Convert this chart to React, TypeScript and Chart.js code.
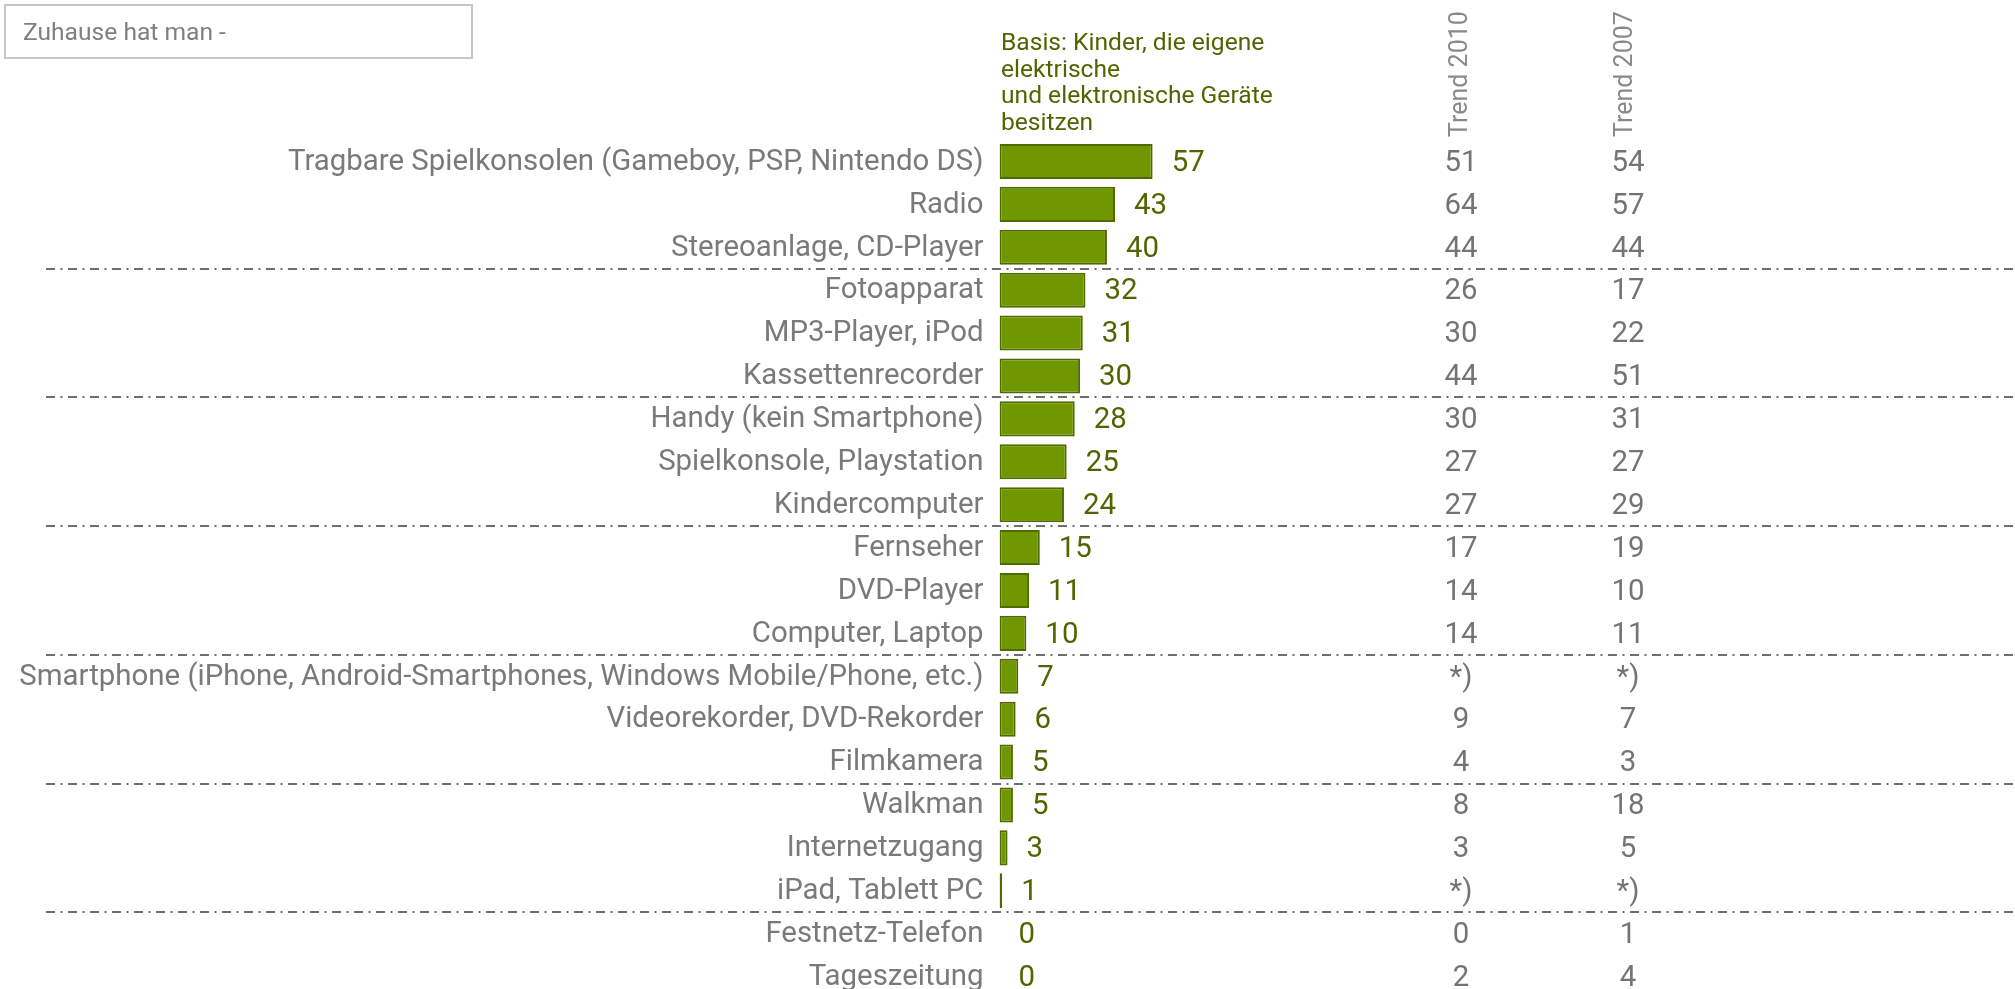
import React, { useEffect, useRef } from 'react';
import { Chart, registerables } from 'chart.js';

Chart.register(...registerables);

// ---------- data ----------
const categories: string[] = [
  'Tragbare Spielkonsolen (Gameboy, PSP, Nintendo DS)',
  'Radio',
  'Stereoanlage, CD-Player',
  'Fotoapparat',
  'MP3-Player, iPod',
  'Kassettenrecorder',
  'Handy (kein Smartphone)',
  'Spielkonsole, Playstation',
  'Kindercomputer',
  'Fernseher',
  'DVD-Player',
  'Computer, Laptop',
  'Smartphone (iPhone, Android-Smartphones, Windows Mobile/Phone, etc.)',
  'Videorekorder, DVD-Rekorder',
  'Filmkamera',
  'Walkman',
  'Internetzugang',
  'iPad, Tablett PC',
  'Festnetz-Telefon',
  'Tageszeitung',
];

const shares: number[] = [57, 43, 40, 32, 31, 30, 28, 25, 24, 15, 11, 10, 7, 6, 5, 5, 3, 1, 0, 0];

// null = not asked that year, shown as "*)"
const trend2010: (number | null)[] = [51, 64, 44, 26, 30, 44, 30, 27, 27, 17, 14, 14, null, 9, 4, 8, 3, null, 0, 2];
const trend2007: (number | null)[] = [54, 57, 44, 17, 22, 51, 31, 27, 29, 19, 10, 11, null, 7, 3, 18, 5, null, 1, 4];

const trendHeaders: string[] = ['Trend 2010', 'Trend 2007'];
const basisLines: string[] = [
  'Basis: Kinder, die eigene',
  'elektrische',
  'und elektronische Geräte',
  'besitzen',
];
const titleText = 'Zuhause hat man -';
const groupEnds: number[] = [2, 5, 8, 11, 14, 17];
const missingMark = '*)';

// ---------- styling / layout ----------
const FONT = 'Roboto';
const LABEL_PX = 29.4;
const SMALL_PX = 25;
const OLIVE = '#4f6600';
const BAR_FILL = '#709600';
const BAR_BORDER = '#4f6b00';
const GRAY = '#7a7a7a';
const NUM_GRAY = '#747474';
const LIGHT_GRAY = '#8a8a8a';
const W = 2015;
const H = 989;
const PLOT_LEFT = 999.5;
const PLOT_TOP = 140;
const X_MAX = 378;
const Y_MIN = -0.5;
const Y_MAX = 19.29;
const TREND_X = [1461, 1628];
const TREND_HEADER_X = [1461, 1626];

const overlay = {
  id: 'overlay',
  afterDatasetsDraw(chart: any) {
    const ctx: CanvasRenderingContext2D = chart.ctx;
    const yScale = chart.scales.y;
    const meta = chart.getDatasetMeta(0);
    ctx.save();

    // group separators
    ctx.strokeStyle = '#6e6e6e';
    ctx.lineWidth = 2;
    ctx.setLineDash([9, 5.5, 2, 5.5]);
    groupEnds.forEach((i) => {
      const py = Math.round(yScale.getPixelForValue(i + 0.5));
      ctx.beginPath();
      ctx.moveTo(46, py);
      ctx.lineTo(chart.width, py);
      ctx.stroke();
    });
    ctx.setLineDash([]);

    // value labels
    ctx.font = `${LABEL_PX}px ${FONT}`;
    ctx.fillStyle = OLIVE;
    ctx.textAlign = 'left';
    ctx.textBaseline = 'middle';
    meta.data.forEach((bar: any, i: number) => {
      ctx.fillText(String(shares[i]), bar.x + 19, bar.y + 2);
    });

    // trend columns
    ctx.fillStyle = NUM_GRAY;
    ctx.textAlign = 'center';
    [trend2010, trend2007].forEach((arr, c) => {
      arr.forEach((v, i) => {
        ctx.fillText(v == null ? missingMark : String(v), TREND_X[c], yScale.getPixelForValue(i) + 2);
      });
    });

    // trend headers (rotated)
    ctx.font = `${SMALL_PX}px ${FONT}`;
    ctx.fillStyle = LIGHT_GRAY;
    trendHeaders.forEach((t, c) => {
      ctx.save();
      ctx.translate(TREND_HEADER_X[c], 137);
      ctx.rotate(-Math.PI / 2);
      ctx.textAlign = 'left';
      ctx.textBaseline = 'middle';
      ctx.fillText(t, 0, 0);
      ctx.restore();
    });

    // basis note
    ctx.font = `24.6px ${FONT}`;
    ctx.fillStyle = OLIVE;
    ctx.textAlign = 'left';
    ctx.textBaseline = 'alphabetic';
    basisLines.forEach((line, i) => {
      ctx.fillText(line, 1001, 50 + i * 26.7);
    });

    // title box
    ctx.strokeStyle = '#c6c6c6';
    ctx.lineWidth = 2;
    ctx.strokeRect(5, 5, 467, 53);
    ctx.fillStyle = '#808080';
    ctx.fillText(titleText, 23, 40);

    ctx.restore();
  },
};

export default function App() {
  const canvasRef = useRef<HTMLCanvasElement | null>(null);

  useEffect(() => {
    const canvas = canvasRef.current;
    if (!canvas) return;
    const chart = new Chart(canvas, {
      type: 'bar',
      data: {
        datasets: [
          {
            data: shares.map((v, i) => ({ x: v, y: i })),
            backgroundColor: BAR_FILL,
            borderColor: BAR_BORDER,
            borderWidth: 2,
            borderSkipped: false,
            barPercentage: 0.817,
            categoryPercentage: 1,
          },
        ],
      },
      options: {
        indexAxis: 'y',
        animation: false,
        responsive: false,
        devicePixelRatio: 1,
        layout: { autoPadding: false, padding: { left: 0, right: 0, top: PLOT_TOP, bottom: 0 } },
        plugins: { legend: { display: false }, tooltip: { enabled: false } },
        scales: {
          x: { type: 'linear', min: 0, max: X_MAX, display: false },
          y: {
            type: 'linear',
            min: Y_MIN,
            max: Y_MAX,
            offset: false,
            reverse: true,
            afterBuildTicks: (scale: any) => {
              scale.ticks = categories.map((_, i) => ({ value: i }));
            },
            afterFit: (scale: any) => {
              scale.width = PLOT_LEFT;
              scale.paddingTop = 0;
              scale.paddingBottom = 0;
            },
            grid: { display: false, drawTicks: false, offset: false },
            border: { display: false },
            ticks: {
              autoSkip: false,
              padding: 16,
              labelOffset: 1,
              color: GRAY,
              font: { family: FONT, size: LABEL_PX },
              callback: (value: any) => categories[Math.round(Number(value))] ?? '',
            },
          },
        },
      },
      plugins: [overlay],
    } as any);
    return () => chart.destroy();
  }, []);

  return (
    <div style={{ position: 'absolute', left: 0, top: 0, width: W, height: H, background: '#fff' }}>
      <canvas ref={canvasRef} width={W} height={H} style={{ width: W, height: H, display: 'block' }} />
    </div>
  );
}
